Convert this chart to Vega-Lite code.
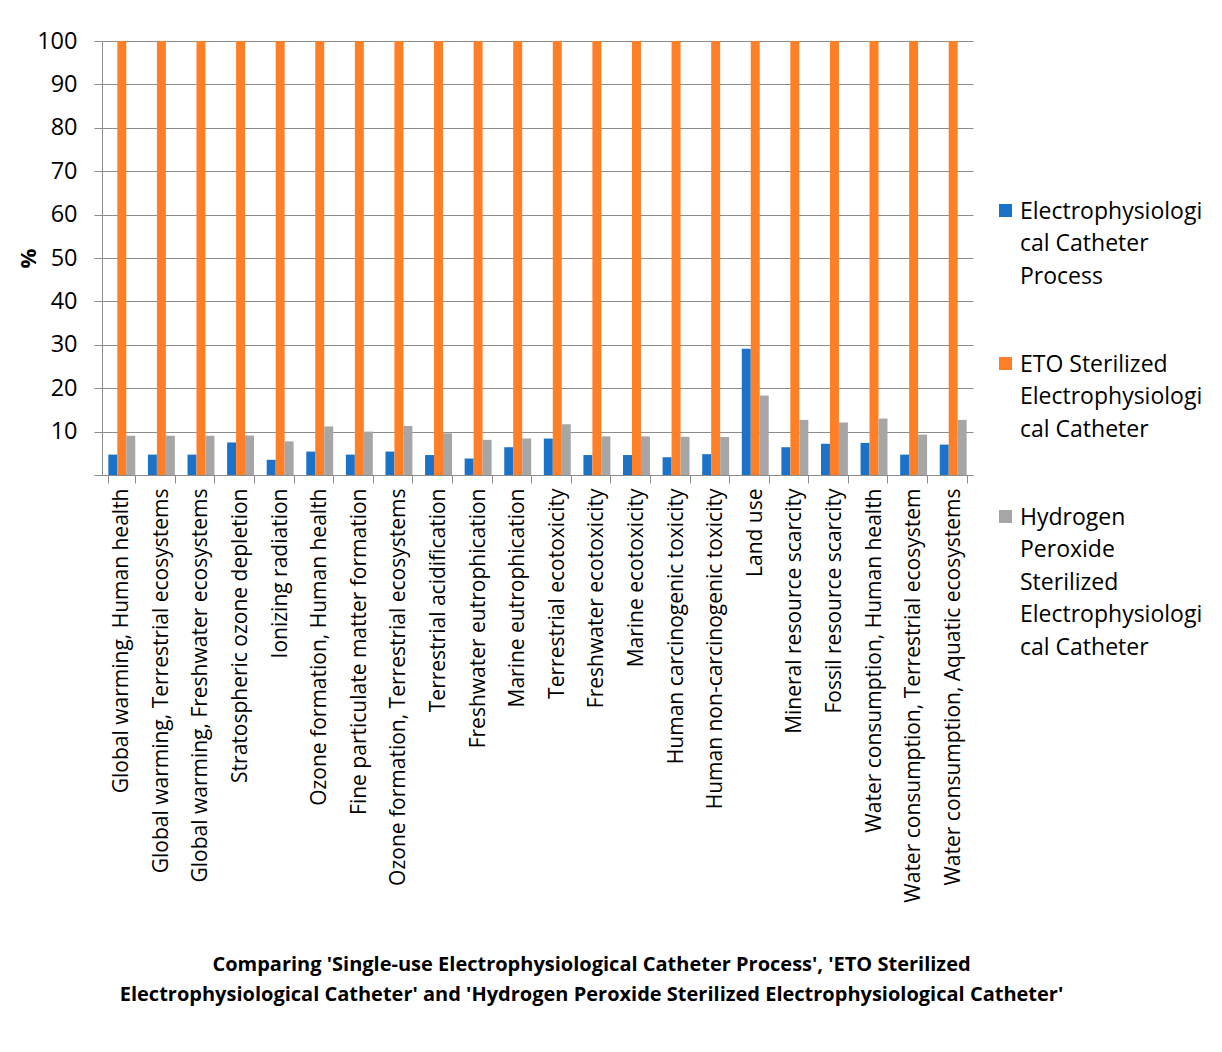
{
  "$schema": "https://vega.github.io/schema/vega-lite/v6.json",
  "width": 871,
  "height": 434,
  "autosize": "none",
  "padding": {"left": 102, "top": 41, "right": 249, "bottom": 577},
  "background": "white",
  "data": {
    "values": [
      {"impact": "Global warming, Human health", "Electrophysiological Catheter Process": 4.7, "ETO Sterilized Electrophysiological Catheter": 100, "Hydrogen Peroxide Sterilized Electrophysiological Catheter": 9.05},
      {"impact": "Global warming, Terrestrial ecosystems", "Electrophysiological Catheter Process": 4.7, "ETO Sterilized Electrophysiological Catheter": 100, "Hydrogen Peroxide Sterilized Electrophysiological Catheter": 9.05},
      {"impact": "Global warming, Freshwater ecosystems", "Electrophysiological Catheter Process": 4.7, "ETO Sterilized Electrophysiological Catheter": 100, "Hydrogen Peroxide Sterilized Electrophysiological Catheter": 9.05},
      {"impact": "Stratospheric ozone depletion", "Electrophysiological Catheter Process": 7.5, "ETO Sterilized Electrophysiological Catheter": 100, "Hydrogen Peroxide Sterilized Electrophysiological Catheter": 9.1},
      {"impact": "Ionizing radiation", "Electrophysiological Catheter Process": 3.5, "ETO Sterilized Electrophysiological Catheter": 100, "Hydrogen Peroxide Sterilized Electrophysiological Catheter": 7.75},
      {"impact": "Ozone formation, Human health", "Electrophysiological Catheter Process": 5.4, "ETO Sterilized Electrophysiological Catheter": 100, "Hydrogen Peroxide Sterilized Electrophysiological Catheter": 11.2},
      {"impact": "Fine particulate matter formation", "Electrophysiological Catheter Process": 4.7, "ETO Sterilized Electrophysiological Catheter": 100, "Hydrogen Peroxide Sterilized Electrophysiological Catheter": 10.0},
      {"impact": "Ozone formation, Terrestrial ecosystems", "Electrophysiological Catheter Process": 5.4, "ETO Sterilized Electrophysiological Catheter": 100, "Hydrogen Peroxide Sterilized Electrophysiological Catheter": 11.3},
      {"impact": "Terrestrial acidification", "Electrophysiological Catheter Process": 4.6, "ETO Sterilized Electrophysiological Catheter": 100, "Hydrogen Peroxide Sterilized Electrophysiological Catheter": 9.6},
      {"impact": "Freshwater eutrophication", "Electrophysiological Catheter Process": 3.8, "ETO Sterilized Electrophysiological Catheter": 100, "Hydrogen Peroxide Sterilized Electrophysiological Catheter": 8.1},
      {"impact": "Marine eutrophication", "Electrophysiological Catheter Process": 6.4, "ETO Sterilized Electrophysiological Catheter": 100, "Hydrogen Peroxide Sterilized Electrophysiological Catheter": 8.4},
      {"impact": "Terrestrial ecotoxicity", "Electrophysiological Catheter Process": 8.4, "ETO Sterilized Electrophysiological Catheter": 100, "Hydrogen Peroxide Sterilized Electrophysiological Catheter": 11.7},
      {"impact": "Freshwater ecotoxicity", "Electrophysiological Catheter Process": 4.6, "ETO Sterilized Electrophysiological Catheter": 100, "Hydrogen Peroxide Sterilized Electrophysiological Catheter": 8.9},
      {"impact": "Marine ecotoxicity", "Electrophysiological Catheter Process": 4.6, "ETO Sterilized Electrophysiological Catheter": 100, "Hydrogen Peroxide Sterilized Electrophysiological Catheter": 8.9},
      {"impact": "Human carcinogenic toxicity", "Electrophysiological Catheter Process": 4.1, "ETO Sterilized Electrophysiological Catheter": 100, "Hydrogen Peroxide Sterilized Electrophysiological Catheter": 8.8},
      {"impact": "Human non-carcinogenic toxicity", "Electrophysiological Catheter Process": 4.8, "ETO Sterilized Electrophysiological Catheter": 100, "Hydrogen Peroxide Sterilized Electrophysiological Catheter": 8.75},
      {"impact": "Land use", "Electrophysiological Catheter Process": 29.1, "ETO Sterilized Electrophysiological Catheter": 100, "Hydrogen Peroxide Sterilized Electrophysiological Catheter": 18.3},
      {"impact": "Mineral resource scarcity", "Electrophysiological Catheter Process": 6.4, "ETO Sterilized Electrophysiological Catheter": 100, "Hydrogen Peroxide Sterilized Electrophysiological Catheter": 12.7},
      {"impact": "Fossil resource scarcity", "Electrophysiological Catheter Process": 7.2, "ETO Sterilized Electrophysiological Catheter": 100, "Hydrogen Peroxide Sterilized Electrophysiological Catheter": 12.1},
      {"impact": "Water consumption, Human health", "Electrophysiological Catheter Process": 7.4, "ETO Sterilized Electrophysiological Catheter": 100, "Hydrogen Peroxide Sterilized Electrophysiological Catheter": 13.0},
      {"impact": "Water consumption, Terrestrial ecosystem", "Electrophysiological Catheter Process": 4.7, "ETO Sterilized Electrophysiological Catheter": 100, "Hydrogen Peroxide Sterilized Electrophysiological Catheter": 9.3},
      {"impact": "Water consumption, Aquatic ecosystems", "Electrophysiological Catheter Process": 7.0, "ETO Sterilized Electrophysiological Catheter": 100, "Hydrogen Peroxide Sterilized Electrophysiological Catheter": 12.7}
    ]
  },
  "transform": [
    {"fold": ["Electrophysiological Catheter Process", "ETO Sterilized Electrophysiological Catheter", "Hydrogen Peroxide Sterilized Electrophysiological Catheter"], "as": ["series", "percent"]}
  ],
  "mark": {"type": "bar"},
  "encoding": {
    "x": {
      "field": "impact",
      "type": "nominal",
      "sort": null,
      "scale": {"paddingInner": 0.32, "paddingOuter": 0.16},
      "axis": {
        "title": ["Comparing 'Single-use Electrophysiological Catheter Process', 'ETO Sterilized", "Electrophysiological Catheter' and 'Hydrogen Peroxide Sterilized Electrophysiological Catheter'"],
        "titleFont": "Open Sans",
        "titleFontWeight": "bold",
        "titleFontSize": 20,
        "titleLineHeight": 30,
        "titleColor": "black",
        "titleX": 489,
        "titleY": 479,
        "titleAlign": "center",
        "titleBaseline": "top",
        "labelAngle": -90,
        "labelFont": "Open Sans",
        "labelFontSize": 21,
        "labelColor": "black",
        "labelPadding": 5,
        "labelLimit": 0,
        "labelOverlap": false,
        "tickBand": "extent",
        "tickSize": 8,
        "tickColor": "#8c8c8c",
        "domainColor": "#8c8c8c",
        "grid": false
      }
    },
    "xOffset": {
      "field": "series",
      "type": "nominal",
      "scale": {"domain": ["Electrophysiological Catheter Process", "ETO Sterilized Electrophysiological Catheter", "Hydrogen Peroxide Sterilized Electrophysiological Catheter"], "paddingInner": 0, "paddingOuter": 0}
    },
    "y": {
      "field": "percent",
      "type": "quantitative",
      "scale": {"domain": [0, 100]},
      "axis": {
        "title": "%",
        "titleFont": "Open Sans",
        "titleFontWeight": "bold",
        "titleFontSize": 22,
        "titleColor": "black",
        "titleAngle": -90,
        "titleX": -74,
        "titleY": 217,
        "titleAlign": "center",
        "titleBaseline": "middle",
        "values": [0, 10, 20, 30, 40, 50, 60, 70, 80, 90, 100],
        "labelExpr": "datum.value == 0 ? '' : datum.label",
        "labelFont": "Open Sans",
        "labelFontSize": 23.5,
        "labelColor": "black",
        "labelPadding": 17,
        "tickSize": 8,
        "tickColor": "#8c8c8c",
        "domainColor": "#8c8c8c",
        "gridColor": "#8c8c8c",
        "gridWidth": 1
      }
    },
    "color": {
      "field": "series",
      "type": "nominal",
      "scale": {
        "domain": ["Electrophysiological Catheter Process", "ETO Sterilized Electrophysiological Catheter", "Hydrogen Peroxide Sterilized Electrophysiological Catheter"],
        "range": ["#1a73c9", "#ff7f27", "#a6a6a6"]
      },
      "legend": {
        "title": null,
        "orient": "none",
        "legendX": 892,
        "legendY": 158,
        "padding": 0,
        "symbolType": "square",
        "symbolSize": 169,
        "symbolStrokeWidth": 0,
        "labelFont": "Open Sans",
        "labelFontSize": 23,
        "labelColor": "black",
        "labelLimit": 0,
        "labelOffset": 3,
        "labelBaseline": "top",
        "rowPadding": 63,
        "labelExpr": "datum.label == 'Electrophysiological Catheter Process' ? ['Electrophysiologi', 'cal Catheter', 'Process'] : datum.label == 'ETO Sterilized Electrophysiological Catheter' ? ['ETO Sterilized', 'Electrophysiologi', 'cal Catheter'] : ['Hydrogen', 'Peroxide', 'Sterilized', 'Electrophysiologi', 'cal Catheter']",
        "encode": {
          "labels": {"update": {"lineHeight": {"value": 32.5}, "dy": {"value": -10}}}
        }
      }
    }
  },
  "config": {
    "font": "Open Sans",
    "view": {"stroke": null}
  }
}
